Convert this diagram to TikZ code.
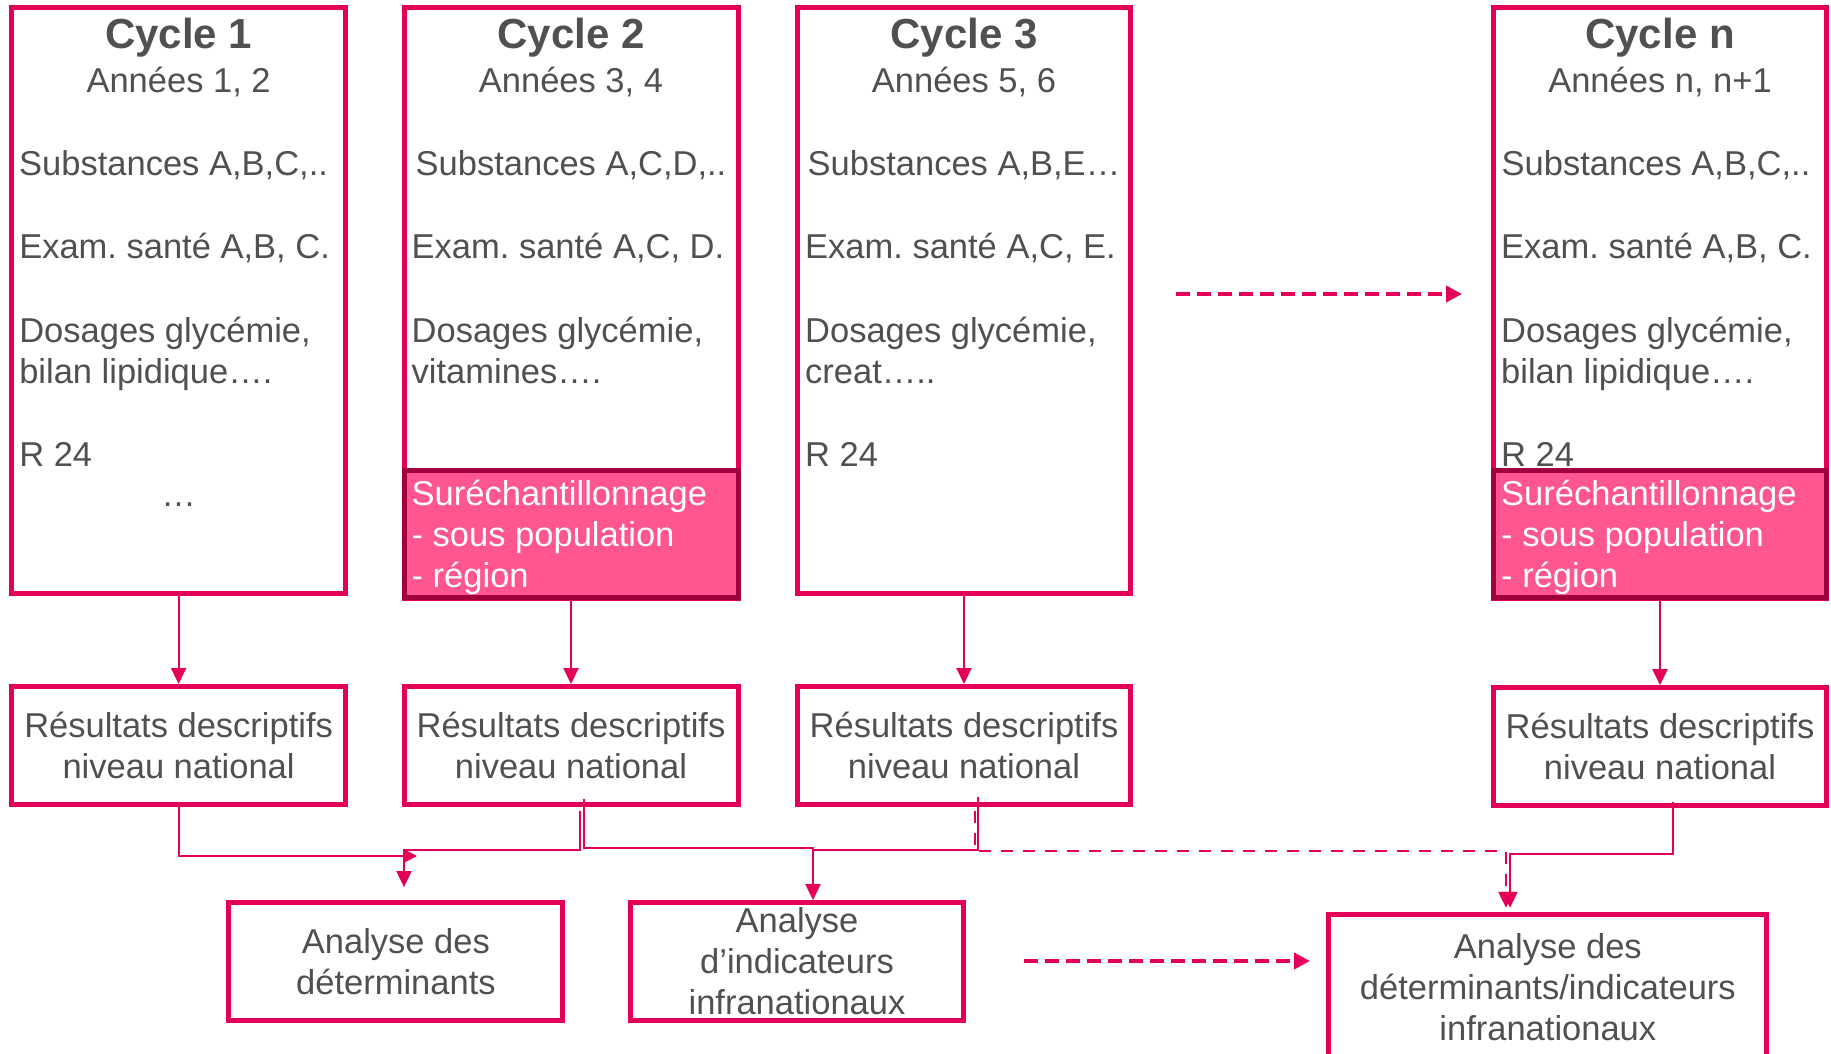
\documentclass[tikz,border=0pt]{standalone}
\usepackage{fontspec}
\setmainfont{Liberation Sans}
\usetikzlibrary{arrows.meta}
\usetikzlibrary{calc}
\usetikzlibrary{positioning}
\definecolor{cyclered}{RGB}{228,0,88}
\definecolor{cyclepink}{RGB}{255,85,145}
\definecolor{cycledark}{RGB}{160,0,60}
\definecolor{cyclegray}{RGB}{80,80,80}
\frenchspacing
\newcommand{\bodysize}{\fontsize{34.5}{41}\selectfont}
\newcommand{\titlesize}{\fontsize{42}{50}\selectfont\bfseries}
\tikzstyle{redbox}=[draw=cyclered,line width=5pt,fill=white,inner sep=0pt,text=cyclegray,font=\bodysize,align=center]
\tikzstyle{pinkbox}=[draw=cycledark,line width=5pt,fill=cyclepink,inner sep=0pt]
\tikzstyle{boxtext}=[inner sep=0pt,text=cyclegray,font=\bodysize]
\tikzstyle{lefttext}=[boxtext,anchor=base west]
\tikzstyle{blocktext}=[boxtext,anchor=north west,align=left]
\tikzstyle{whitetext}=[inner sep=0pt,text=white,font=\bodysize,anchor=west,align=left]
\tikzstyle{titletext}=[inner sep=0pt,text=cyclegray,font=\titlesize,anchor=base]
\tikzstyle{thinline}=[draw=cyclered,line width=2pt]
\tikzstyle{thinarrow}=[thinline,-{Triangle[length=16pt,width=15pt]}]
\tikzstyle{thindash}=[draw=cyclered,line width=2.5pt,dash pattern=on 12pt off 10pt,-{Triangle[length=16pt,width=15pt]}]
\tikzstyle{dasharrow}=[draw=cyclered,line width=4pt,dash pattern=on 14pt off 7pt,-{Triangle[length=16pt,width=16pt]}]

\begin{document}
\begin{tikzpicture}[x=1pt,y=-1pt]
  \path[use as bounding box,clip] (0,0) rectangle (1831,1053);

  % cycles
  \node[redbox,minimum width=334pt,minimum height=586pt] (cyc1) at (178.6,300) {};
  \node[redbox,minimum width=334pt,minimum height=591pt] (cyc2) at (571,302.5) {};
  \node[redbox,minimum width=333pt,minimum height=586pt] (cyc3) at (964,300) {};
  \node[redbox,minimum width=333pt,minimum height=591pt] (cycn) at (1660,302.5) {};
  \node[pinkbox,minimum width=334pt,minimum height=127pt] (pink2) at (571,534.3) {};
  \node[pinkbox,minimum width=333pt,minimum height=127pt] (pinkn) at (1660,534.3) {};

  \node[titletext] (title1) at ($(cyc1.north)+(0,43.5)$) {Cycle 1};
  \node[boxtext,anchor=base] (years1) at ($(cyc1.north)+(0,87.5)$) {Années 1, 2};
  \node[boxtext,anchor=base] (subst1) at ($(cyc1.north)+(-5,170.5)$) {Substances A,B,C,..};
  \node[lefttext] (exam1) at ($(cyc1.north west)+(10,253.5)$) {Exam. santé A,B, C.};
  \node[blocktext] (dos1) at ($(cyc1.north west)+(10,312.5)$) {Dosages glycémie,\\bilan lipidique….};
  \node[lefttext] (rec1) at ($(cyc1.north west)+(10,461.5)$) {R 24};
  \node[boxtext,anchor=base] (dots1) at ($(cyc1.north)+(0,501.5)$) {…};

  \node[titletext] (title2) at ($(cyc2.north)+(0,43.5)$) {Cycle 2};
  \node[boxtext,anchor=base] (years2) at ($(cyc2.north)+(0,87.5)$) {Années 3, 4};
  \node[boxtext,anchor=base] (subst2) at ($(cyc2.north)+(0,170.5)$) {Substances A,C,D,..};
  \node[lefttext] (exam2) at ($(cyc2.north west)+(10,253.5)$) {Exam. santé A,C, D.};
  \node[blocktext] (dos2) at ($(cyc2.north west)+(10,312.5)$) {Dosages glycémie,\\vitamines….};
  \node[whitetext] (over2) at ($(pink2.west)+(10,3.5)$) {Suréchantillonnage\\- sous population\\- région};

  \node[titletext] (title3) at ($(cyc3.north)+(0,43.5)$) {Cycle 3};
  \node[boxtext,anchor=base] (years3) at ($(cyc3.north)+(0,87.5)$) {Années 5, 6};
  \node[boxtext,anchor=base] (subst3) at ($(cyc3.north)+(0,170.5)$) {Substances A,B,E…};
  \node[lefttext] (exam3) at ($(cyc3.north west)+(10,253.5)$) {Exam. santé A,C, E.};
  \node[blocktext] (dos3) at ($(cyc3.north west)+(10,312.5)$) {Dosages glycémie,\\creat…..};
  \node[lefttext] (rec3) at ($(cyc3.north west)+(10,461.5)$) {R 24};

  \node[titletext] (titlen) at ($(cycn.north)+(0,43.5)$) {Cycle n};
  \node[boxtext,anchor=base] (yearsn) at ($(cycn.north)+(0,87.5)$) {Années n, n+1};
  \node[boxtext,anchor=base] (substn) at ($(cycn.north)+(-4,170.5)$) {Substances A,B,C,..};
  \node[lefttext] (examn) at ($(cycn.north west)+(10,253.5)$) {Exam. santé A,B, C.};
  \node[blocktext] (dosn) at ($(cycn.north west)+(10,312.5)$) {Dosages glycémie,\\bilan lipidique….};
  \node[lefttext] (recn) at ($(cycn.north west)+(10,461.5)$) {R 24};
  \node[whitetext] (overn) at ($(pinkn.west)+(10,3.5)$) {Suréchantillonnage\\- sous population\\- région};

  % results
  \node[redbox,minimum width=334pt,minimum height=118pt] (res1) at (178.6,745.5) {Résultats descriptifs\\niveau national};
  \node[redbox,minimum width=334pt,minimum height=118pt] (res2) at (571,745.5) {Résultats descriptifs\\niveau national};
  \node[redbox,minimum width=333pt,minimum height=118pt] (res3) at (964,745.5) {Résultats descriptifs\\niveau national};
  \node[redbox,minimum width=333pt,minimum height=118pt] (resn) at (1660,746.7) {Résultats descriptifs\\niveau national};

  % analyses
  \node[redbox,minimum width=334pt,minimum height=118pt] (ana1) at (395.9,961.6) {Analyse des\\déterminants};
  \node[redbox,minimum width=333pt,minimum height=118pt] (ana2) at (797,961.6) {Analyse\\d’indicateurs\\infranationaux};
  \node[redbox,minimum width=438pt,minimum height=146pt] (ana3) at (1547.8,987.3) {Analyse des\\déterminants/indicateurs\\infranationaux};

  \draw[thinarrow] (cyc1.south) -- (res1.north);
  \draw[thinarrow] (pink2.south) -- (res2.north);
  \draw[thinarrow] (cyc3.south) -- (res3.north);
  \draw[thinarrow] (pinkn.south) -- (resn.north);

  \coordinate (j1) at (417,856);
  \coordinate (k1) at (404,850);
  \coordinate (k2) at (813,848);
  \coordinate (k3) at (813,850);
  \coordinate (k4) at (1506,851);
  \coordinate (k5) at (1510,854);
  \draw[thinline,-{Triangle[length=12pt,width=12pt]}] (res1.south) |- (j1);
  \draw[thinarrow] ($(res2.south)+(9,4)$) |- (k1) -- ($(k1 |- ana1.north)+(0,-13)$);
  \draw[thinarrow] ($(res2.south)+(13,-8)$) |- (k2) -- (k2 |- ana2.north);
  \draw[thinline] ($(res3.south)+(14,-10)$) |- (k3) -- ($(k3 |- ana2.north)+(0,-16)$);
  \draw[thindash] ($(res3.south)+(11,4)$) |- (k4) -- ($(k4 |- ana3.north)+(0,-4)$);
  \draw[thinarrow] ($(resn.south)+(13,-6)$) |- (k5) -- ($(k5 |- ana3.north)+(0,-4)$);

  \coordinate (d1) at (1176,294);
  \coordinate (d2) at (1462,294);
  \coordinate (d3) at (1024,961);
  \coordinate (d4) at (1310,961);
  \draw[dasharrow] (d1) -- (d2);
  \draw[dasharrow] (d3) -- (d4);
\end{tikzpicture}
\end{document}
